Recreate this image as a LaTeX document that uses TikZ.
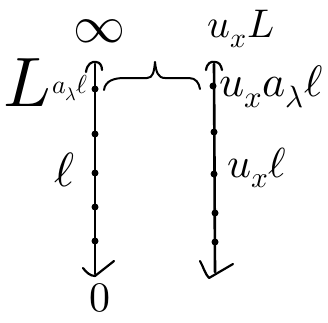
\documentclass[tikz,border=0pt]{standalone}
\usepackage{unicode-math}
\tikzset{
  axis/.style={line width=2.6pt, line cap=round},
  tipline/.style={line width=2.2pt, line cap=round, line join=round},
  dot/.style={circle, fill=black, inner sep=0pt, minimum size=7pt},
  lbl/.style={inner sep=0pt},
  bracepath/.style={line width=2pt, line cap=round, line join=round}
}
\newcommand{\fs}[1]{\fontsize{#1}{#1}\selectfont}
\begin{document}
\begin{tikzpicture}[x=1pt,y=-1pt]
\useasboundingbox (0,0) rectangle (328,322);
% axis endpoints
\coordinate (lt) at (95,64);
\coordinate (lb) at (95,274);
\coordinate (rt) at (214,64);
\coordinate (rb) at (215,272);
\draw[axis] (lt) -- (lb);
\draw[axis] (rt) -- (rb);
% dots
\node[dot] (l1) at (95,89) {};
\node[dot] (l2) at (95,134) {};
\node[dot] (l3) at (95,173) {};
\node[dot] (l4) at (95,207) {};
\node[dot] (l5) at (95,241) {};
\node[dot] (r1) at (213,86) {};
\node[dot] (r2) at (214,132) {};
\node[dot] (r3) at (214,174) {};
\node[dot] (r4) at (215,213) {};
\node[dot] (r5) at (215,242) {};
% top caps
\draw[tipline] (86,72) .. controls (87,64) and (92,61) .. (96,62) .. controls (100,62) and (102,66) .. (102,70);
\draw[tipline] (206,70) .. controls (207,63) and (211,61) .. (215,62) .. controls (219,62) and (221,65) .. (222,70);
% bottom tips
\draw[tipline] (83,268) .. controls (86,272) and (90,276) .. (95,276) -- (114,261);
\draw[tipline] (200,261) .. controls (203,266) and (205,274) .. (209,278) -- (233,264);
% brace
\draw[bracepath] (104,90) .. controls (105,81) and (114,78) .. (124,78) -- (147,78)
  .. controls (153,78) and (154,72) .. (155,62)
  .. controls (156,72) and (158,78) .. (165,78) -- (189,78)
  .. controls (196,78) and (199,83) .. (200,89);
% labels
\node[lbl] (inf) at (99,31) {\fs{52}$\infty$};
\node[lbl] (uL) at (241,29) {\fs{40}$u_x L$};
\node[lbl] (L) at (27,83) {\fs{70}$L$};
\node[lbl] (al) at (70,88) {\fs{26}$a_\lambda\ell$};
\node[lbl] (ual) at (271,87) {\fs{44}$u_x a_\lambda\ell$};
\node[lbl] (ell) at (65,170) {\fs{48}$\ell$};
\node[lbl] (ul) at (257,168) {\fs{42}$u_x\ell$};
\node[lbl] (zero) at (100,298) {\fs{42}$0$};
\end{tikzpicture}
\end{document}
